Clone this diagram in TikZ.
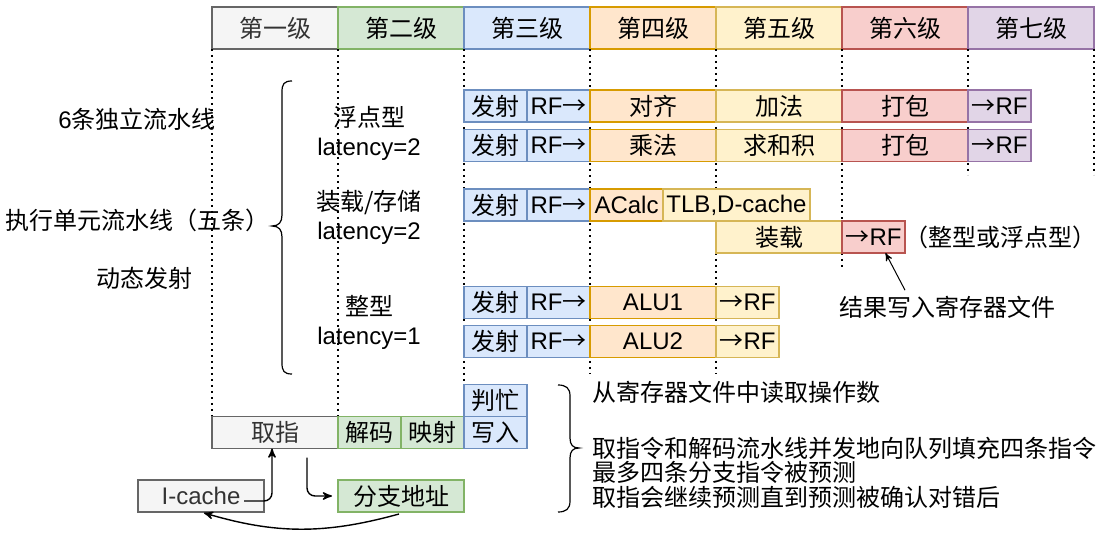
\documentclass[tikz,border=0pt,12pt]{standalone}
\usepackage{fontspec}
\setmainfont{Liberation Sans}
\newfontfamily\zh{Noto Sans CJK SC}
\usepackage{tikz}
\usetikzlibrary{arrows,positioning}

\newcommand\toarr{{\zh →}}

\definecolor{greyfill}{HTML}{F5F5F5}
\definecolor{greyline}{HTML}{666666}
\definecolor{greytext}{HTML}{333333}
\definecolor{greenfill}{HTML}{D5E8D4}
\definecolor{greenline}{HTML}{82B366}
\definecolor{bluefill}{HTML}{DAE8FC}
\definecolor{blueline}{HTML}{6C8EBF}
\definecolor{orangefill}{HTML}{FFE6CC}
\definecolor{orangeline}{HTML}{D79B00}
\definecolor{yellowfill}{HTML}{FFF2CC}
\definecolor{yellowline}{HTML}{D6B656}
\definecolor{redfill}{HTML}{F8CECC}
\definecolor{redline}{HTML}{B85450}
\definecolor{purplefill}{HTML}{E1D5E7}
\definecolor{purpleline}{HTML}{9673A6}

\begin{document}
\begin{tikzpicture}[x=0.5pt,y=-0.5pt,->,>=stealth',line width=0.7pt,node distance=0pt,
	box/.style={-,draw,line width=0.8pt,inner sep=0pt,outer sep=0pt,minimum height=16pt,font=\zh},
	cell/.style={box,minimum width=31.5pt},
	wide/.style={box,minimum width=63pt},
	hdr/.style={box,minimum width=63pt,minimum height=21pt},
	en/.style={font=\rmfamily},
	fillgrey/.style={fill=greyfill,draw=greyline,text=greytext},
	fillgreen/.style={fill=greenfill,draw=greenline},
	fillblue/.style={fill=bluefill,draw=blueline},
	fillorange/.style={fill=orangefill,draw=orangeline},
	fillyellow/.style={fill=yellowfill,draw=yellowline},
	fillred/.style={fill=redfill,draw=redline},
	fillpurple/.style={fill=purplefill,draw=purpleline},
	guide/.style={-,line width=0.9pt,dash pattern=on 0.9pt off 2.1pt},
	note/.style={inner sep=0pt,font=\zh},
	brace/.style={-,line width=0.6pt}]
	\useasboundingbox (0,0) rectangle (1112,544);

	% stages
	\node [hdr,fillgrey]	(s1)	at (275,28)		{第一级};
	\node [hdr,fillgreen]	(s2)	[right=of s1]	{第二级};
	\node [hdr,fillblue]	(s3)	[right=of s2]	{第三级};
	\node [hdr,fillorange]	(s4)	[right=of s3]	{第四级};
	\node [hdr,fillyellow]	(s5)	[right=of s4]	{第五级};
	\node [hdr,fillred]		(s6)	[right=of s5]	{第六级};
	\node [hdr,fillpurple]	(s7)	[right=of s6]	{第七级};

	\foreach \i/\len in {1/368,2/368,3/336,4/325,5/325,6/221,7/126}
		\draw [guide] (s\i.south west) -- +(0,\len);
	\draw [guide] (s7.south east) -- +(0,126);

	% floating point
	\node [cell,fillblue]		(fp1a)	at (495.5,106)		{发射};
	\node [cell,fillblue,en]	(fp1b)	[right=of fp1a]		{RF\toarr};
	\node [wide,fillorange]		(fp1c)	[right=of fp1b]		{对齐};
	\node [wide,fillyellow]		(fp1d)	[right=of fp1c]		{加法};
	\node [wide,fillred]		(fp1e)	[right=of fp1d]		{打包};
	\node [cell,fillpurple,en]	(fp1f)	[right=of fp1e]		{\toarr RF};

	\node [cell,fillblue]		(fp2a)	at (495.5,145.5)	{发射};
	\node [cell,fillblue,en]	(fp2b)	[right=of fp2a]		{RF\toarr};
	\node [wide,fillorange]		(fp2c)	[right=of fp2b]		{乘法};
	\node [wide,fillyellow]		(fp2d)	[right=of fp2c]		{求和积};
	\node [wide,fillred]		(fp2e)	[right=of fp2d]		{打包};
	\node [cell,fillpurple,en]	(fp2f)	[right=of fp2e]		{\toarr RF};

	% load/store
	\node [cell,fillblue]		(ls1a)	at (495.5,205)		{发射};
	\node [cell,fillblue,en]	(ls1b)	[right=of ls1a]		{RF\toarr};
	\node [box,fillorange,en,minimum width=36.5pt]	(ls1c)	[right=of ls1b]	{ACalc};
	\node [box,fillyellow,en,minimum width=73.5pt]	(ls1d)	[right=of ls1c]	{TLB,D-cache};
	\node [wide,fillyellow]		(ls2a)	at (779,237)		{装载};
	\node [cell,fillred,en]		(ls2b)	[right=of ls2a]		{\toarr RF};

	% integer
	\node [cell,fillblue]		(in1a)	at (495.5,302.5)	{发射};
	\node [cell,fillblue,en]	(in1b)	[right=of in1a]		{RF\toarr};
	\node [wide,fillorange,en]	(in1c)	[right=of in1b]		{ALU1};
	\node [cell,fillyellow,en]	(in1d)	[right=of in1c]		{\toarr RF};

	\node [cell,fillblue]		(in2a)	at (495.5,341.5)	{发射};
	\node [cell,fillblue,en]	(in2b)	[right=of in2a]		{RF\toarr};
	\node [wide,fillorange,en]	(in2c)	[right=of in2b]		{ALU2};
	\node [cell,fillyellow,en]	(in2d)	[right=of in2c]		{\toarr RF};

	% front end
	\node [wide,fillgrey]		(fetch)		at (275,432.5)		{取指};
	\node [cell,fillgreen]		(decode)	[right=of fetch]	{解码};
	\node [cell,fillgreen]		(map)		[right=of decode]	{映射};
	\node [cell,fillblue]		(write)		[right=of map]		{写入};
	\node [cell,fillblue]		(busy)		[above=of write]	{判忙};
	\node [wide,fillgrey,en]	(icache)	at (201,496)		{I-cache};
	\node [wide,fillgreen]		(branch)	at (401,496)		{分支地址};

	% notes
	\node [note]	(six)	at (137,119)	{{\rmfamily 6}条独立流水线};
	\node [note]	(exec)	at (137.5,220)	{执行单元流水线（五条）};
	\node [note]	(dyn)	at (144,278)	{动态发射};
	\node [note,align=center]	(fp)	at (369,133)	{浮点型\\{\rmfamily latency=2}};
	\node [note,align=center]	(ls)	at (369,217.5)	{装载/存储\\{\rmfamily latency=2}};
	\node [note,align=center]	(int)	at (369,322)	{整型\\{\rmfamily latency=1}};
	\node [note]	(kind)	at (1000,237)	{（整型或浮点型）};
	\node [note]	(result)	at (947,307)	{结果写入寄存器文件};
	\node [note,anchor=west]	(readop)	at (592,392)	{从寄存器文件中读取操作数};
	\node [note,anchor=west,align=left,font=\zh\fontsize{12pt}{12.25pt}\selectfont]	(fill)	at (592,472.5)
		{取指令和解码流水线并发地向队列填充四条指令\\最多四条分支指令被预测\\取指会继续预测直到预测被确认对错后};

	% braces
	\draw [brace] (292,81) .. controls (284,81) and (282,84) .. (282,92) -- (282,215)
		.. controls (282,222) and (279,226) .. (272,226) .. controls (279,226) and (282,230) .. (282,237)
		-- (282,363) .. controls (282,371) and (284,374) .. (292,374);
	\draw [brace] (558,385) .. controls (566,385) and (570,388) .. (570,396) -- (570,438)
		.. controls (570,445) and (573,448) .. (579,448) .. controls (573,448) and (570,451) .. (570,458)
		-- (570,501) .. controls (570,509) and (566,512) .. (558,512);

	\path
		([xshift=-10pt,yshift=-2.5pt]icache.east)	edge	[rounded corners=4pt,to path={-| (\tikztotarget)}]	([xshift=-1.5pt]fetch.south)
		([xshift=16pt,yshift=-4.5pt]fetch.south)	edge	[rounded corners=4pt,shorten >=3pt,to path={|- (\tikztotarget)}]	(branch.west)
		([xshift=-1pt,yshift=-1pt]branch.south)		edge	[bend left=16,shorten >=1.5pt]	(icache.south)
		([xshift=-21pt,yshift=2.5pt]result.north)	edge	[line width=0.5pt]	([xshift=6pt]ls2b.south)
	;
\end{tikzpicture}
\end{document}
